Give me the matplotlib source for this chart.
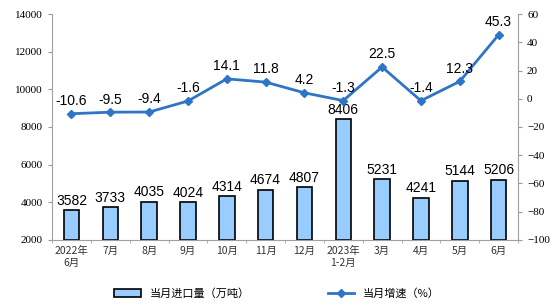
import matplotlib.pyplot as plt
import numpy as np

plt.rcParams['font.family'] = ['Noto Sans CJK SC', 'DejaVu Sans']

months = ['2022年\n6月', '7月', '8月', '9月', '10月', '11月', '12月',
          '2023年\n1-2月', '3月', '4月', '5月', '6月']
imports = [3582, 3733, 4035, 4024, 4314, 4674, 4807, 8406, 5231, 4241, 5144, 5206]
growth = [-10.6, -9.5, -9.4, -1.6, 14.1, 11.8, 4.2, -1.3, 22.5, -1.4, 12.3, 45.3]

fig = plt.figure(figsize=(5.54, 3.06), dpi=100)
ax = fig.add_axes([0.094, 0.216, 0.841, 0.738])
ax2 = ax.twinx()

x = np.arange(len(months))
bars = ax.bar(x, np.array(imports) - 2000, bottom=2000, width=0.4,
              color='#99CCFF', edgecolor='black', linewidth=1.2,
              label='当月进口量（万吨）')
for xi, v in zip(x, imports):
    ax.text(xi, v + 120, str(v), ha='center', va='bottom', fontsize=10,
            family='Liberation Sans')

ax.set_xlim(-0.5, len(months) - 0.5)
ax.set_ylim(2000, 14000)
ax.set_yticks(range(2000, 14001, 2000))
ax.set_xticks(x)
ax.set_xticklabels(months, fontsize=7.5, color='#333333', linespacing=1.3)
ax.set_xticks(np.arange(-0.5, len(months), 1), minor=True)

line, = ax2.plot(x, growth, color='#2E75C6', linewidth=2, marker='D',
                 markersize=4, label='当月增速（%）')
for xi, v in zip(x, growth):
    ax2.text(xi, v + 4, f'{v:.1f}', ha='center', va='bottom', fontsize=10,
             family='Liberation Sans')
ax2.set_ylim(-100, 60)
ax2.set_yticks(range(-100, 61, 20))

for a in (ax, ax2):
    for s in a.spines.values():
        s.set_visible(False)
    a.tick_params(axis='y', labelsize=8, colors='#999999', labelcolor='black',
                  length=3)
    for lab in a.get_yticklabels():
        lab.set_family('Liberation Serif')
ax.spines['left'].set_visible(True)
ax.spines['left'].set_color('#A0A0A0')
ax.spines['bottom'].set_visible(True)
ax.spines['bottom'].set_color('#A0A0A0')
ax2.spines['right'].set_visible(True)
ax2.spines['right'].set_color('#A0A0A0')
ax.tick_params(axis='x', which='major', length=0, pad=4)
ax.tick_params(axis='x', which='minor', length=2, color='#A0A0A0')

fig.legend(handles=[bars, line], loc='lower center', ncol=2, frameon=False,
           fontsize=8, bbox_to_anchor=(0.5, -0.01), columnspacing=7,
           handlelength=2.4)

fig.savefig('out.png', dpi=100)
